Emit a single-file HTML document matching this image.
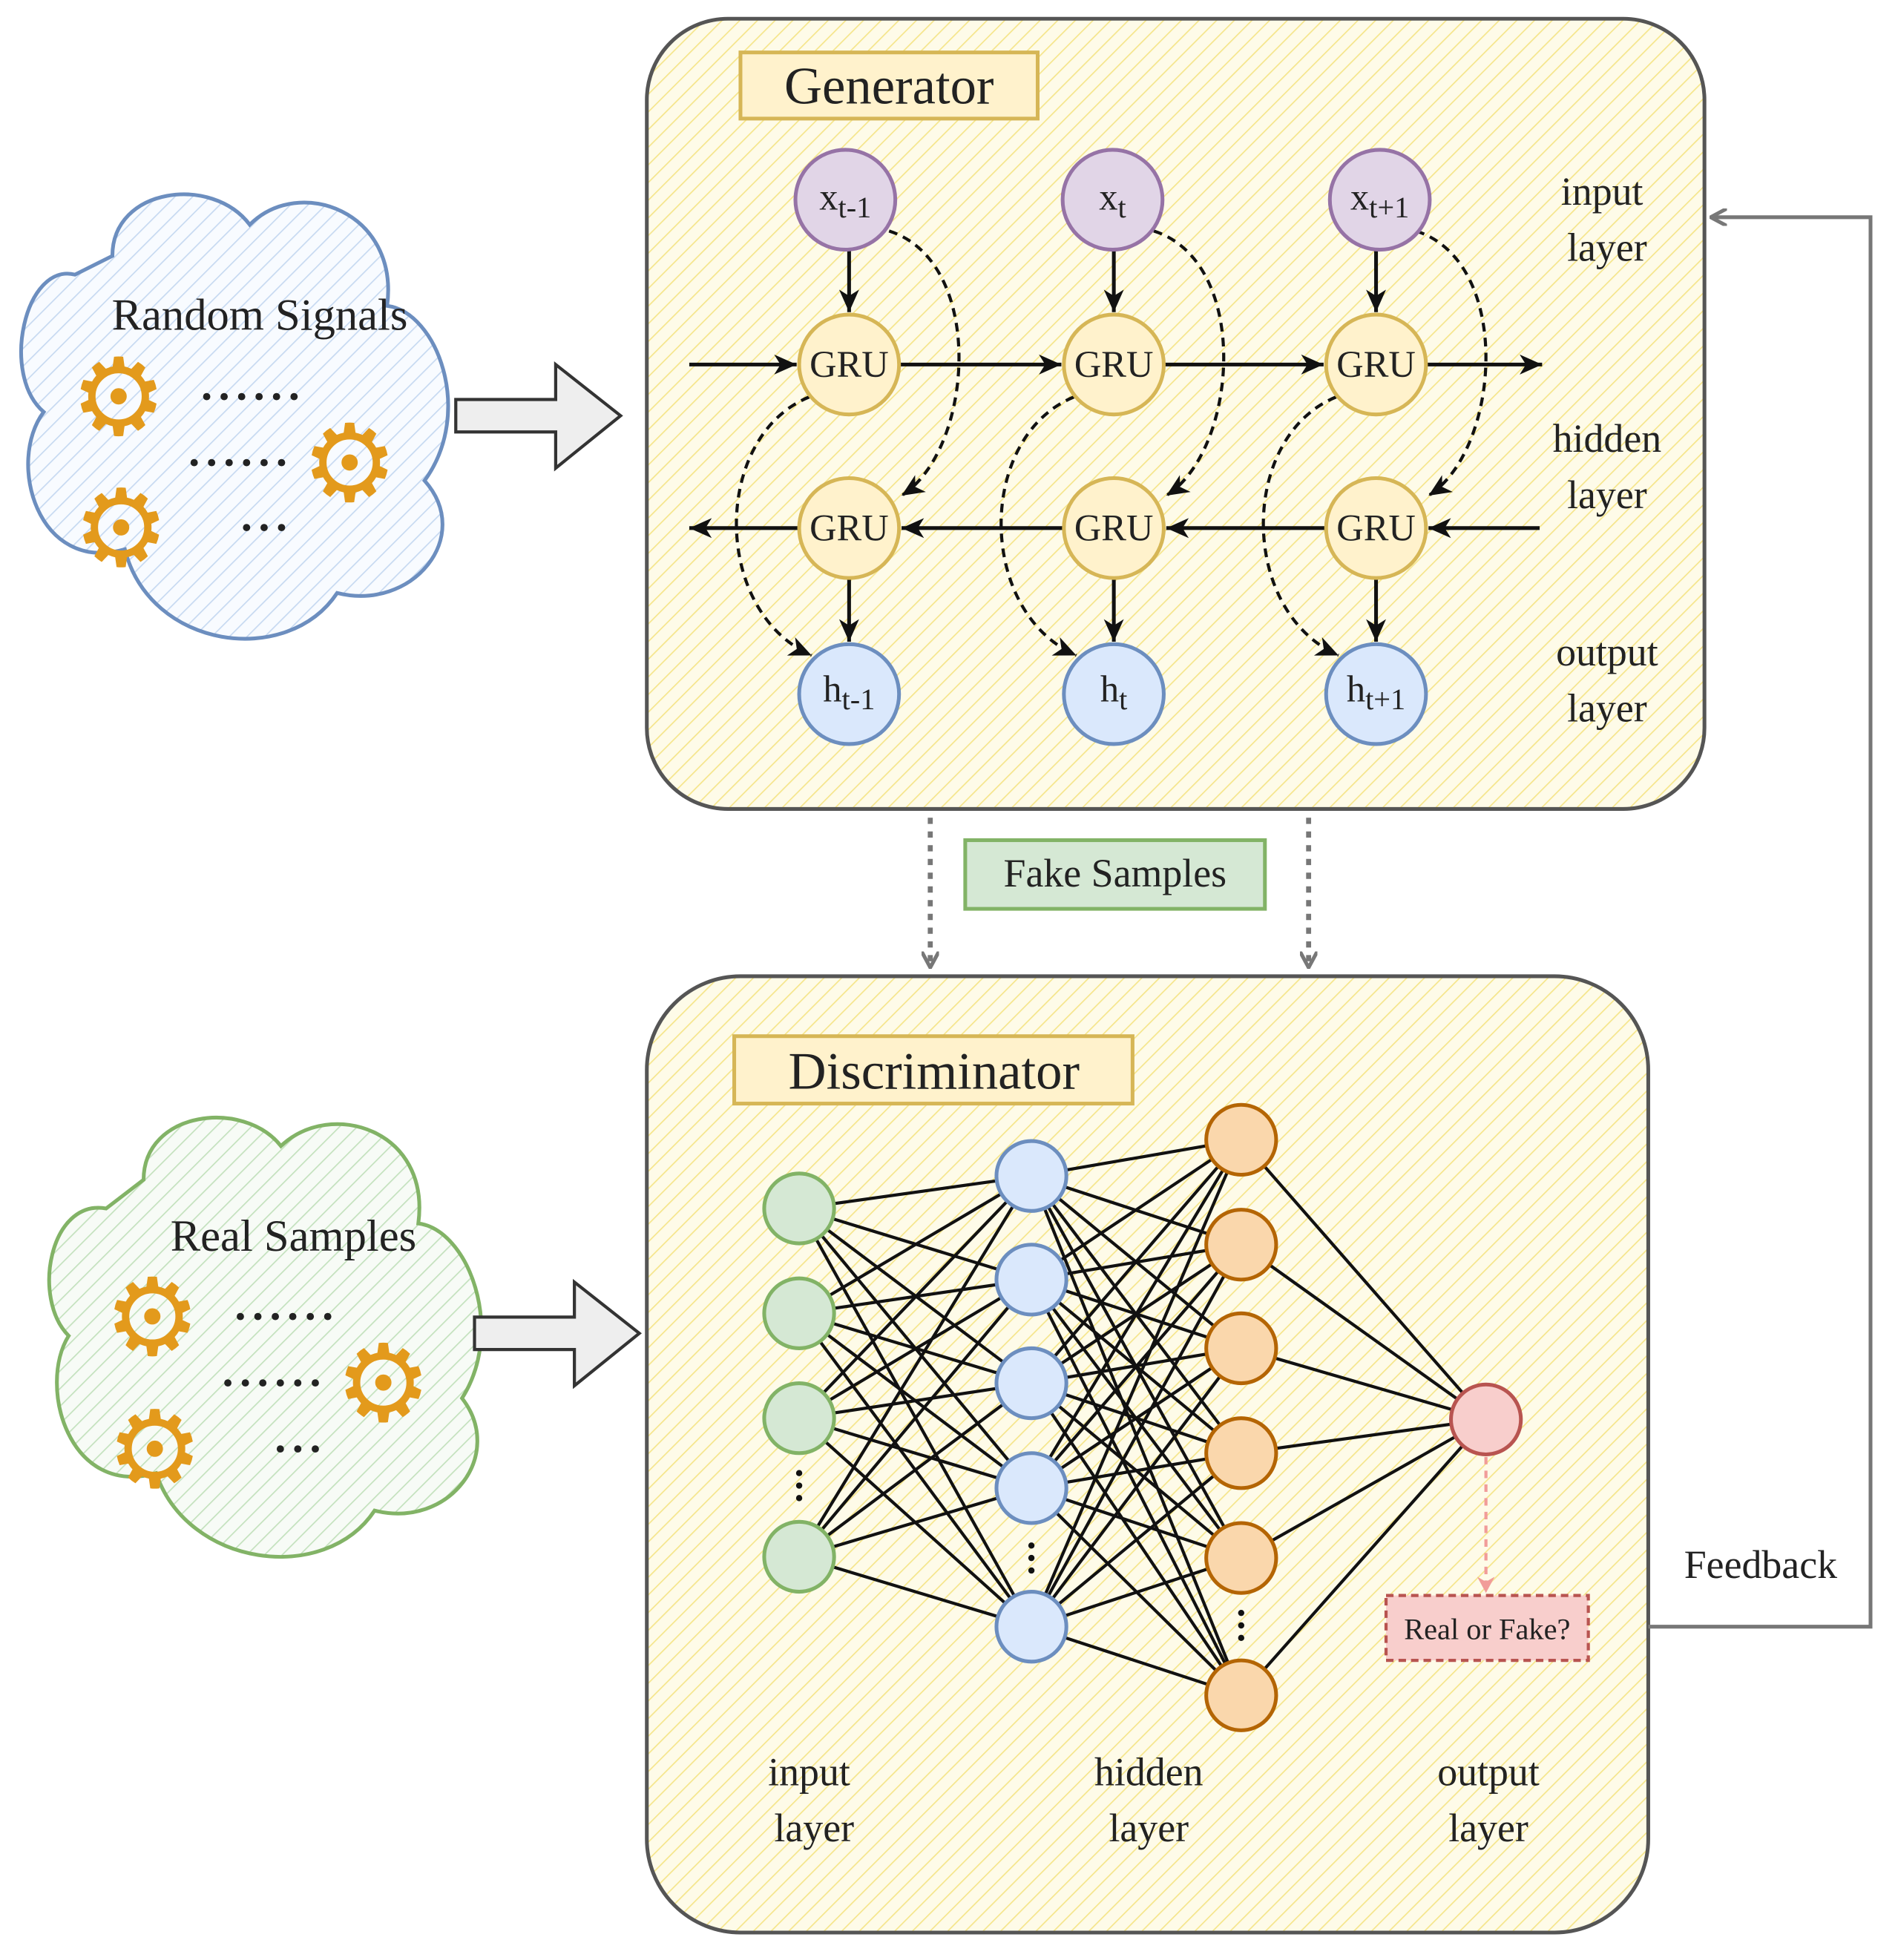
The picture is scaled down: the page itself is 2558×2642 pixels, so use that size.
<!DOCTYPE html>
<html><head><meta charset="utf-8"><style>
html,body{margin:0;padding:0;background:#fff;}
svg{display:block;}
text{font-family:"Liberation Serif",serif;fill:#222;}
</style></head><body>
<svg width="2558" height="2642" viewBox="0 0 1520 1570" preserveAspectRatio="none" xmlns="http://www.w3.org/2000/svg">
<defs>
<pattern id="hy" width="10" height="10" patternUnits="userSpaceOnUse" patternTransform="rotate(45)"><rect width="10" height="10" fill="#fefbe8"/><line x1="0" y1="0" x2="0" y2="10" stroke="#f5e58a" stroke-width="2"/></pattern>
<pattern id="hb" width="10" height="10" patternUnits="userSpaceOnUse" patternTransform="rotate(45)"><rect width="10" height="10" fill="#f8fbff"/><line x1="0" y1="0" x2="0" y2="10" stroke="#c6d9f1" stroke-width="2"/></pattern>
<pattern id="hg" width="10" height="10" patternUnits="userSpaceOnUse" patternTransform="rotate(45)"><rect width="10" height="10" fill="#f7fbf6"/><line x1="0" y1="0" x2="0" y2="10" stroke="#c3e1bd" stroke-width="2"/></pattern>
<marker id="ag" markerWidth="14" markerHeight="14" refX="13" refY="7" orient="auto" markerUnits="userSpaceOnUse"><path d="M0,0 L13,7 L0,14" fill="none" stroke="#777" stroke-width="3"/></marker>
<marker id="ap" markerWidth="14" markerHeight="14" refX="13" refY="7" orient="auto" markerUnits="userSpaceOnUse"><path d="M0,0 L13,7 L0,14 L4,7z" fill="#f19c99"/></marker>
<marker id="abig" markerWidth="20" markerHeight="20" refX="18" refY="10" orient="auto" markerUnits="userSpaceOnUse"><path d="M0,2 L18,10 L0,18 L5,10z" fill="#111"/></marker>
</defs>

<rect x="518" y="15" width="847" height="633" rx="65" fill="url(#hy)" stroke="#555" stroke-width="3"/>
<rect x="593" y="42" width="238" height="53" fill="#fff2cc" stroke="#d6b656" stroke-width="3"/>
<text x="712" y="83" font-size="42" text-anchor="middle">Generator</text>

<g stroke="#111" stroke-width="3" fill="none">
<line x1="552" y1="292" x2="638" y2="292" marker-end="url(#abig)"/>
<line x1="720" y1="292" x2="850" y2="292" marker-end="url(#abig)"/>
<line x1="932" y1="292" x2="1060" y2="292" marker-end="url(#abig)"/>
<line x1="1142" y1="292" x2="1235" y2="292" marker-end="url(#abig)"/>
<line x1="1233" y1="423" x2="1144" y2="423" marker-end="url(#abig)"/>
<line x1="1062" y1="423" x2="934" y2="423" marker-end="url(#abig)"/>
<line x1="852" y1="423" x2="722" y2="423" marker-end="url(#abig)"/>
<line x1="640" y1="423" x2="552" y2="423" marker-end="url(#abig)"/>
<line x1="680" y1="200" x2="680" y2="250" marker-end="url(#abig)"/>
<line x1="892" y1="200" x2="892" y2="250" marker-end="url(#abig)"/>
<line x1="1102" y1="200" x2="1102" y2="250" marker-end="url(#abig)"/>
<line x1="680" y1="463" x2="680" y2="514" marker-end="url(#abig)"/>
<line x1="892" y1="463" x2="892" y2="514" marker-end="url(#abig)"/>
<line x1="1102" y1="463" x2="1102" y2="514" marker-end="url(#abig)"/>
</g>
<g stroke="#111" stroke-width="2.5" fill="none" stroke-dasharray="7,5">
<path d="M712,185 C790,210 780,360 722,397" marker-end="url(#abig)"/>
<path d="M924,185 C1002,210 992,360 934,397" marker-end="url(#abig)"/>
<path d="M1134,185 C1212,210 1202,360 1144,397" marker-end="url(#abig)"/>
<path d="M648,318 C570,350 570,490 650,525" marker-end="url(#abig)"/>
<path d="M860,318 C782,350 782,490 862,525" marker-end="url(#abig)"/>
<path d="M1070,318 C992,350 992,490 1072,525" marker-end="url(#abig)"/>
</g>
<g stroke-width="3">
<circle cx="677" cy="160" r="40" fill="#e1d5e7" stroke="#9673a6"/>
<circle cx="891" cy="160" r="40" fill="#e1d5e7" stroke="#9673a6"/>
<circle cx="1105" cy="160" r="40" fill="#e1d5e7" stroke="#9673a6"/>
<circle cx="680" cy="292" r="40" fill="#fff2cc" stroke="#d6b656"/>
<circle cx="892" cy="292" r="40" fill="#fff2cc" stroke="#d6b656"/>
<circle cx="1102" cy="292" r="40" fill="#fff2cc" stroke="#d6b656"/>
<circle cx="680" cy="423" r="40" fill="#fff2cc" stroke="#d6b656"/>
<circle cx="892" cy="423" r="40" fill="#fff2cc" stroke="#d6b656"/>
<circle cx="1102" cy="423" r="40" fill="#fff2cc" stroke="#d6b656"/>
<circle cx="680" cy="556" r="40" fill="#dae8fc" stroke="#6c8ebf"/>
<circle cx="892" cy="556" r="40" fill="#dae8fc" stroke="#6c8ebf"/>
<circle cx="1102" cy="556" r="40" fill="#dae8fc" stroke="#6c8ebf"/>
</g>
<g font-size="30" text-anchor="middle">
<text x="677" y="168">x<tspan font-size="24" dy="6">t-1</tspan></text>
<text x="891" y="168">x<tspan font-size="24" dy="6">t</tspan></text>
<text x="1105" y="168">x<tspan font-size="24" dy="6">t+1</tspan></text>
<text x="680" y="302">GRU</text><text x="892" y="302">GRU</text><text x="1102" y="302">GRU</text>
<text x="680" y="433">GRU</text><text x="892" y="433">GRU</text><text x="1102" y="433">GRU</text>
<text x="680" y="562">h<tspan font-size="24" dy="6">t-1</tspan></text>
<text x="892" y="562">h<tspan font-size="24" dy="6">t</tspan></text>
<text x="1102" y="562">h<tspan font-size="24" dy="6">t+1</tspan></text>
</g>
<g font-size="32" text-anchor="middle">
<text x="1283" y="164">input</text><text x="1287" y="209">layer</text>
<text x="1287" y="362">hidden</text><text x="1287" y="407">layer</text>
<text x="1287" y="533">output</text><text x="1287" y="578">layer</text>
</g>

<path d="M60,220 C20,210 0,300 35,330 C5,370 30,460 100,440 C120,520 230,535 270,475 C330,490 380,430 340,385 C380,330 350,250 310,245 C320,170 240,140 200,180 C170,140 90,150 90,205 Z" fill="url(#hb)" stroke="#6c8ebf" stroke-width="3"/>
<text x="208" y="264" font-size="36" text-anchor="middle">Random Signals</text>
<g font-family="DejaVu Sans" font-size="86" text-anchor="middle">
<text x="95" y="348" style="fill:#e39a1c">⚙</text>
<text x="280" y="401" style="fill:#e39a1c">⚙</text>
<text x="97" y="453" style="fill:#e39a1c">⚙</text>
</g>
<g font-size="36" font-weight="bold" text-anchor="middle" letter-spacing="5">
<text x="203" y="320">......</text>
<text x="193" y="373">......</text>
<text x="214" y="425">...</text>
</g>
<path d="M365,320 L445,320 L445,292 L497,333 L445,375 L445,346 L365,346 Z" fill="#eee" stroke="#333" stroke-width="2.5"/>

<path d="M85,968 C40,960 25,1040 55,1070 C30,1110 55,1200 125,1180 C150,1255 260,1270 300,1210 C360,1225 405,1165 370,1120 C405,1065 375,985 335,980 C345,905 265,880 225,918 C195,880 115,890 115,945 Z" fill="url(#hg)" stroke="#82b366" stroke-width="3"/>
<text x="235" y="1002" font-size="36" text-anchor="middle">Real Samples</text>
<g font-family="DejaVu Sans" font-size="86" text-anchor="middle">
<text x="122" y="1085" style="fill:#e39a1c">⚙</text>
<text x="307" y="1138" style="fill:#e39a1c">⚙</text>
<text x="124" y="1191" style="fill:#e39a1c">⚙</text>
</g>
<g font-size="36" font-weight="bold" text-anchor="middle" letter-spacing="5">
<text x="230" y="1057">......</text>
<text x="220" y="1110">......</text>
<text x="241" y="1163">...</text>
</g>
<path d="M380,1055 L460,1055 L460,1027 L512,1068 L460,1110 L460,1081 L380,1081 Z" fill="#eee" stroke="#333" stroke-width="2.5"/>

<g stroke="#777" stroke-width="4" stroke-dasharray="5,6" fill="none">
<line x1="745" y1="655" x2="745" y2="775" marker-end="url(#ag)"/>
<line x1="1048" y1="655" x2="1048" y2="775" marker-end="url(#ag)"/>
</g>
<rect x="773" y="673" width="240" height="55" fill="#d5e8d4" stroke="#82b366" stroke-width="3"/>
<text x="893" y="710" font-size="32" text-anchor="middle">Fake Samples</text>

<rect x="518" y="782" width="802" height="766" rx="75" fill="url(#hy)" stroke="#555" stroke-width="3"/>
<rect x="588" y="830" width="319" height="54" fill="#fff2cc" stroke="#d6b656" stroke-width="3"/>
<text x="748" y="872" font-size="42" text-anchor="middle">Discriminator</text>

<g stroke="#111" stroke-width="2.5">
<path d="
M640,968 L826,942 M640,968 L826,1025 M640,968 L826,1108 M640,968 L826,1192 M640,968 L826,1303
M640,1052 L826,942 M640,1052 L826,1025 M640,1052 L826,1108 M640,1052 L826,1192 M640,1052 L826,1303
M640,1136 L826,942 M640,1136 L826,1025 M640,1136 L826,1108 M640,1136 L826,1192 M640,1136 L826,1303
M640,1247 L826,942 M640,1247 L826,1025 M640,1247 L826,1108 M640,1247 L826,1192 M640,1247 L826,1303
M826,942 L994,913 M826,942 L994,997 M826,942 L994,1080 M826,942 L994,1164 M826,942 L994,1248 M826,942 L994,1358
M826,1025 L994,913 M826,1025 L994,997 M826,1025 L994,1080 M826,1025 L994,1164 M826,1025 L994,1248 M826,1025 L994,1358
M826,1108 L994,913 M826,1108 L994,997 M826,1108 L994,1080 M826,1108 L994,1164 M826,1108 L994,1248 M826,1108 L994,1358
M826,1192 L994,913 M826,1192 L994,997 M826,1192 L994,1080 M826,1192 L994,1164 M826,1192 L994,1248 M826,1192 L994,1358
M826,1303 L994,913 M826,1303 L994,997 M826,1303 L994,1080 M826,1303 L994,1164 M826,1303 L994,1248 M826,1303 L994,1358
M994,913 L1190,1137 M994,997 L1190,1137 M994,1080 L1190,1137 M994,1164 L1190,1137 M994,1248 L1190,1137 M994,1358 L1190,1137"/>
</g>
<g stroke-width="3">
<circle cx="640" cy="968" r="28" fill="#d5e8d4" stroke="#82b366"/>
<circle cx="640" cy="1052" r="28" fill="#d5e8d4" stroke="#82b366"/>
<circle cx="640" cy="1136" r="28" fill="#d5e8d4" stroke="#82b366"/>
<circle cx="640" cy="1247" r="28" fill="#d5e8d4" stroke="#82b366"/>
<circle cx="826" cy="942" r="28" fill="#dae8fc" stroke="#6c8ebf"/>
<circle cx="826" cy="1025" r="28" fill="#dae8fc" stroke="#6c8ebf"/>
<circle cx="826" cy="1108" r="28" fill="#dae8fc" stroke="#6c8ebf"/>
<circle cx="826" cy="1192" r="28" fill="#dae8fc" stroke="#6c8ebf"/>
<circle cx="826" cy="1303" r="28" fill="#dae8fc" stroke="#6c8ebf"/>
<circle cx="994" cy="913" r="28" fill="#fad7ac" stroke="#b46504"/>
<circle cx="994" cy="997" r="28" fill="#fad7ac" stroke="#b46504"/>
<circle cx="994" cy="1080" r="28" fill="#fad7ac" stroke="#b46504"/>
<circle cx="994" cy="1164" r="28" fill="#fad7ac" stroke="#b46504"/>
<circle cx="994" cy="1248" r="28" fill="#fad7ac" stroke="#b46504"/>
<circle cx="994" cy="1358" r="28" fill="#fad7ac" stroke="#b46504"/>
<circle cx="1190" cy="1137" r="28" fill="#f8cecc" stroke="#b85450"/>
</g>
<g fill="#111">
<circle cx="640" cy="1180" r="2.5"/><circle cx="640" cy="1190" r="2.5"/><circle cx="640" cy="1200" r="2.5"/>
<circle cx="826" cy="1238" r="2.5"/><circle cx="826" cy="1248" r="2.5"/><circle cx="826" cy="1258" r="2.5"/>
<circle cx="994" cy="1292" r="2.5"/><circle cx="994" cy="1302" r="2.5"/><circle cx="994" cy="1312" r="2.5"/>
</g>
<line x1="1190" y1="1167" x2="1190" y2="1276" stroke="#f19c99" stroke-width="2.5" stroke-dasharray="6,5" marker-end="url(#ap)"/>
<rect x="1110" y="1278" width="162" height="52" fill="#f8cecc" stroke="#b85450" stroke-width="2.5" stroke-dasharray="6,4"/>
<text x="1191" y="1313" font-size="24" text-anchor="middle">Real or Fake?</text>
<g font-size="32" text-anchor="middle">
<text x="648" y="1430">input</text><text x="652" y="1475">layer</text>
<text x="920" y="1430">hidden</text><text x="920" y="1475">layer</text>
<text x="1192" y="1430">output</text><text x="1192" y="1475">layer</text>
</g>

<path d="M1320,1303 L1498,1303 L1498,174 L1370,174" fill="none" stroke="#777" stroke-width="3" marker-end="url(#ag)"/>
<text x="1410" y="1264" font-size="32" text-anchor="middle">Feedback</text>
</svg>
</body></html>
